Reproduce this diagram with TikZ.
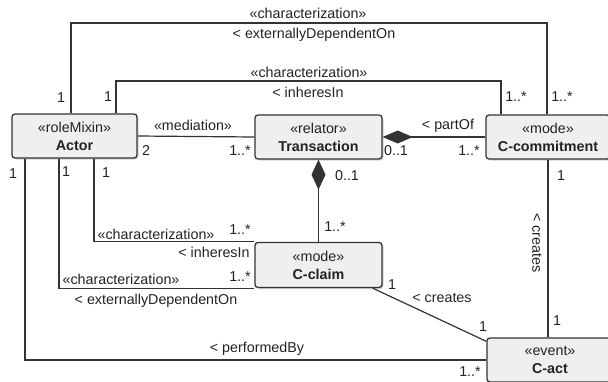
\documentclass[tikz,border=0pt]{standalone}
\usepackage{fontspec}
\setmainfont{Liberation Sans}
\usetikzlibrary{arrows.meta,shadows}

\definecolor{boxfill}{HTML}{EFEFEF}
\definecolor{umlline}{HTML}{333333}
\definecolor{umltext}{HTML}{222222}
\newcommand{\umlfont}{\fontsize{14.3}{18}\selectfont}

\tikzset{
  umlclass/.style={draw=umlline, line width=1.3pt, fill=boxfill, rounded corners=3pt,
    minimum width=126pt, minimum height=44pt, align=center, inner sep=0pt,
    text=umltext, font=\umlfont,
    drop shadow={shadow xshift=1.5pt, shadow yshift=-1.5pt, opacity=0.35}},
  assoc/.style={draw=umlline, line width=1.2pt},
  lbl/.style={inner sep=0pt, text=umltext, font=\umlfont},
  comp/.style={{Diamond[length=30pt,width=13pt]}-},
}

\begin{document}
\begin{tikzpicture}[x=1pt,y=-1pt]
	\useasboundingbox (0,0) rectangle (608,381);
	\clip (0,0) rectangle (608,381);

	% classes
	\node[umlclass, minimum width=125pt] (actor) at (74.5,136) {«roleMixin»\\\textbf{Actor}};
	\node[umlclass, minimum width=127pt] (trans) at (318.5,137) {«relator»\\\textbf{Transaction}};
	\node[umlclass, minimum width=124pt] (commit) at (548,137) {«mode»\\\textbf{C-commitment}};
	\node[umlclass, minimum width=127pt, minimum height=45pt] (claim) at (318.5,265) {«mode»\\\textbf{C-claim}};
	\node[umlclass] (act) at (550,360) {«event»\\\textbf{C-act}};

	% characterization links at the top
	\draw[assoc] (71,0 |- actor.north) -- (71,23) -- (547,23) -- (547,0 |- commit.north);
	\draw[assoc] (116,0 |- actor.north) -- (116,81) -- (501,81) -- (501,0 |- commit.north);
	\node[lbl] (ch1) at (308,13) {«characterization»};
	\node[lbl] (ed1) at (314,35) {< externallyDependentOn};
	\node[lbl] (ch2) at (309,72) {«characterization»};
	\node[lbl] (in1) at (308,92) {< inheresIn};
	\node[lbl] (m1) at (61,98) {1};
	\node[lbl] (m2) at (108,97) {1};
	\node[lbl] (m3) at (516,97) {1..*};
	\node[lbl] (m4) at (562,97) {1..*};

	% mediation and partOf
	\draw[assoc] (actor.east) -- (trans.west);
	\node[lbl] (med) at (193,125) {«mediation»};
	\node[lbl] (m5) at (146,151) {2};
	\node[lbl] (m6) at (240,151) {1..*};
	\draw[assoc, comp] (trans.east) -- (commit.west);
	\node[lbl] (po) at (448,126) {< partOf};
	\node[lbl] (m7) at (396,151) {0..1};
	\node[lbl] (m8) at (469,151) {1..*};
	\draw[assoc, {Diamond[length=30pt,width=14pt]}-] (trans.south) -- (claim.north);
	\node[lbl] (m9) at (347,176) {0..1};
	\node[lbl] (m10) at (335,227) {1..*};

	% links from the bottom of Actor
	\draw[assoc] (94,0 |- actor.south) -- (94,0 |- claim.north west) -- (claim.north west);
	\draw[assoc] (59,0 |- actor.south) -- (59,0 |- claim.south west) -- (claim.south west);
	\draw[assoc] (25,0 |- actor.south) -- (25,0 |- act.west) -- (act.west);
	\node[lbl] (m11) at (13,174) {1};
	\node[lbl] (m12) at (66,172) {1};
	\node[lbl] (m13) at (106,173) {1};
	\node[lbl] (ch3) at (156,234) {«characterization»};
	\node[lbl] (m14) at (240,230) {1..*};
	\node[lbl] (in2) at (214,252) {< inheresIn};
	\node[lbl] (ch4) at (121,279) {«characterization»};
	\node[lbl] (m15) at (240,277) {1..*};
	\node[lbl] (ed2) at (156,301) {< externallyDependentOn};
	\node[lbl] (pb) at (257,349) {< performedBy};
	\node[lbl] (m16) at (470,372) {1..*};

	% creates
	\draw[assoc] ([xshift=-10pt]claim.south east) -- ([yshift=-4pt]act.north west);
	\node[lbl] (cr1) at (442,298) {< creates};
	\node[lbl] (m17) at (392,285) {1};
	\node[lbl] (m18) at (483,327) {1};
	\draw[assoc] (commit.south) -- (commit.south |- act.north);
	\node[lbl, rotate=-90] (cr2) at (537,243) {< creates};
	\node[lbl] (m19) at (561,176) {1};
	\node[lbl] (m20) at (557,321) {1};
\end{tikzpicture}
\end{document}
